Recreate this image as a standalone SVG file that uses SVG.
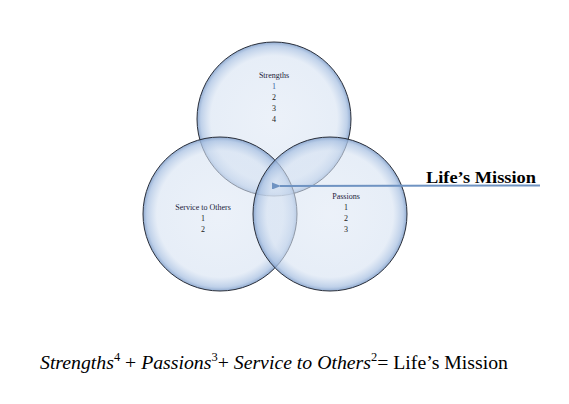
<svg xmlns="http://www.w3.org/2000/svg" width="569" height="404" viewBox="0 0 569 404">
<defs>
<radialGradient id="g" cx="50%" cy="50%" r="50%">
<stop offset="0%" stop-color="#dce6f4" stop-opacity="0.55"/>
<stop offset="82%" stop-color="#d6e2f2" stop-opacity="0.6"/>
<stop offset="95%" stop-color="#a9c1e2" stop-opacity="0.75"/>
<stop offset="100%" stop-color="#7d9cc8" stop-opacity="0.85"/>
</radialGradient>
<marker id="ah" markerWidth="9" markerHeight="7" refX="1" refY="3.5" orient="auto" markerUnits="userSpaceOnUse">
<path d="M9,0 L0,3.5 L9,7 Z" fill="#6f93c2"/>
</marker>
<style>
.c{fill:url(#g);stroke:#2a2f3a;stroke-width:1}
.t{font-family:"Liberation Serif","DejaVu Serif",serif;font-size:8px;fill:#1a1a3a;text-anchor:middle}
.n{fill:#1a1a1a}
.eq{font-family:"Liberation Serif","DejaVu Serif",serif;font-size:19px;fill:#000}
</style>
</defs>
<rect width="569" height="404" fill="#fff"/>
<g id="strengths">
<circle class="c" cx="274" cy="119" r="77"/>
<text class="t" x="274" y="78">Strengths</text>
<text class="t" x="274" y="89" style="fill:#3a5fa0">1</text>
<text class="t n" x="274" y="100">2</text>
<text class="t n" x="274" y="111">3</text>
<text class="t n" x="274" y="122">4</text>
</g>
<g id="service">
<circle class="c" cx="220" cy="214" r="77"/>
<text class="t" x="203" y="210">Service to Others</text>
<text class="t n" x="203" y="221">1</text>
<text class="t n" x="203" y="232">2</text>
</g>
<g id="passions">
<circle class="c" cx="330" cy="214" r="77"/>
<text class="t" x="346" y="199">Passions</text>
<text class="t n" x="346" y="210">1</text>
<text class="t n" x="346" y="221">2</text>
<text class="t n" x="346" y="232">3</text>
</g>
<g id="connectors">
<line x1="540" y1="185.5" x2="280" y2="186" stroke="#6f93c2" stroke-width="2" marker-end="url(#ah)"/>
</g>
<g id="mission">
<text x="426" y="183" font-family="Liberation Serif, DejaVu Serif, serif" font-weight="bold" font-size="16" textLength="110" lengthAdjust="spacingAndGlyphs">Life’s Mission</text>
</g>
<g id="equation">
<text class="eq" x="40" y="369" textLength="468" lengthAdjust="spacingAndGlyphs"><tspan font-style="italic">Strengths</tspan><tspan font-size="12" dy="-8">4</tspan><tspan dy="8"> + </tspan><tspan font-style="italic">Passions</tspan><tspan font-size="12" dy="-8">3</tspan><tspan dy="8">+ </tspan><tspan font-style="italic">Service to Others</tspan><tspan font-size="12" dy="-8">2</tspan><tspan dy="8">= Life’s Mission</tspan></text>
</g>
</svg>
